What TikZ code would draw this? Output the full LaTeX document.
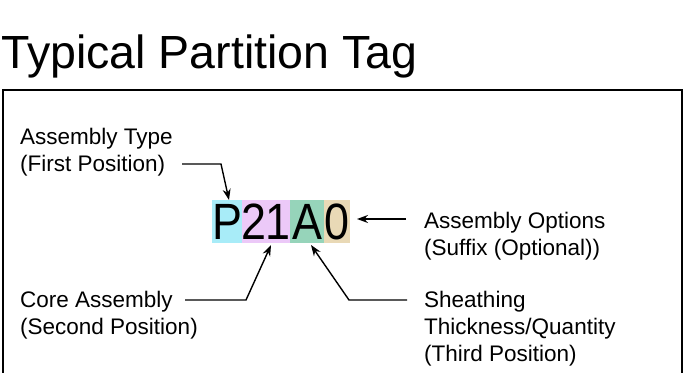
\documentclass[tikz,border=0pt]{standalone}
\usepackage{fontspec}
\setmainfont{Liberation Sans}
\usetikzlibrary{arrows.meta}
\definecolor{tagcyan}{HTML}{A8ECF8}
\definecolor{tagpink}{HTML}{ECC9F8}
\definecolor{taggreen}{HTML}{96D4BA}
\definecolor{tagtan}{HTML}{E9D9B6}
\begin{document}
\begin{tikzpicture}[x=1pt,y=-1pt,
  label/.style={anchor=base west,inner sep=0pt,align=left,
    font=\fontsize{22.5}{27}\selectfont},
  cell/.style={anchor=north west,inner sep=0pt,minimum height=43pt},
  glyph/.style={inner sep=0pt,font=\fontsize{51}{51}\selectfont,xscale=0.88},
  pointer/.style={line width=1.4pt,-{Stealth[length=11pt,width=8pt]}}]
\useasboundingbox (0,0) rectangle (685,372);

% title
\node[anchor=base west,inner sep=0pt,font=\fontsize{46.5}{46.5}\selectfont]
  (title) at (1,68) {Typical Partition Tag};

% frame, open at the bottom
\draw[line width=2.6pt] (3,380) -- (3,90) -- (682,90) -- (682,380);

% coloured tag cells
\node[cell,fill=tagcyan,minimum width=30pt] (cP) at (212,200) {};
\node[cell,fill=tagpink,minimum width=48pt] (c21) at (242,200) {};
\node[cell,fill=taggreen,minimum width=34pt] (cA) at (290,200) {};
\node[cell,fill=tagtan,minimum width=26pt] (c0) at (324,200) {};

% tag characters
\node[glyph,anchor=base] (gP) at (227,239.5) {P};
\node[glyph,anchor=base] (g2) at (254,239.5) {2};
\node[glyph,anchor=base] (g1) at (278,239.5) {1};
\node[glyph,anchor=base] (gA) at (307,239.5) {A};
\node[glyph,anchor=base] (g0) at (337,239.5) {0};

% labels (base anchor sits on the last line)
\node[label] (ltype) at (20,171) {Assembly Type\\(First Position)};
\node[label] (lopt) at (424,255) {Assembly Options\\(Suffix (Optional))};
\node[label] (lcore) at (20,334) {Core Assembly\\(Second Position)};
\node[label] (lsheath) at (424,361) {Sheathing\\Thickness/Quantity\\(Third Position)};

% connector ends
\coordinate (s1) at (182,164);
\coordinate (b1) at (221,164);
\coordinate (t1) at (229,200);
\coordinate (s2) at (406,219);
\coordinate (t2) at (357,219);
\coordinate (s3) at (185,300);
\coordinate (b3) at (246,300);
\coordinate (t3) at (271,245);
\coordinate (s4) at (407,300);
\coordinate (b4) at (349,300);
\coordinate (t4) at (311,245);

\draw[pointer] (s1) -- (b1) -- (t1);
\draw[pointer] (s2) -- (t2);
\draw[pointer] (s3) -- (b3) -- (t3);
\draw[pointer] (s4) -- (b4) -- (t4);
\end{tikzpicture}
\end{document}
